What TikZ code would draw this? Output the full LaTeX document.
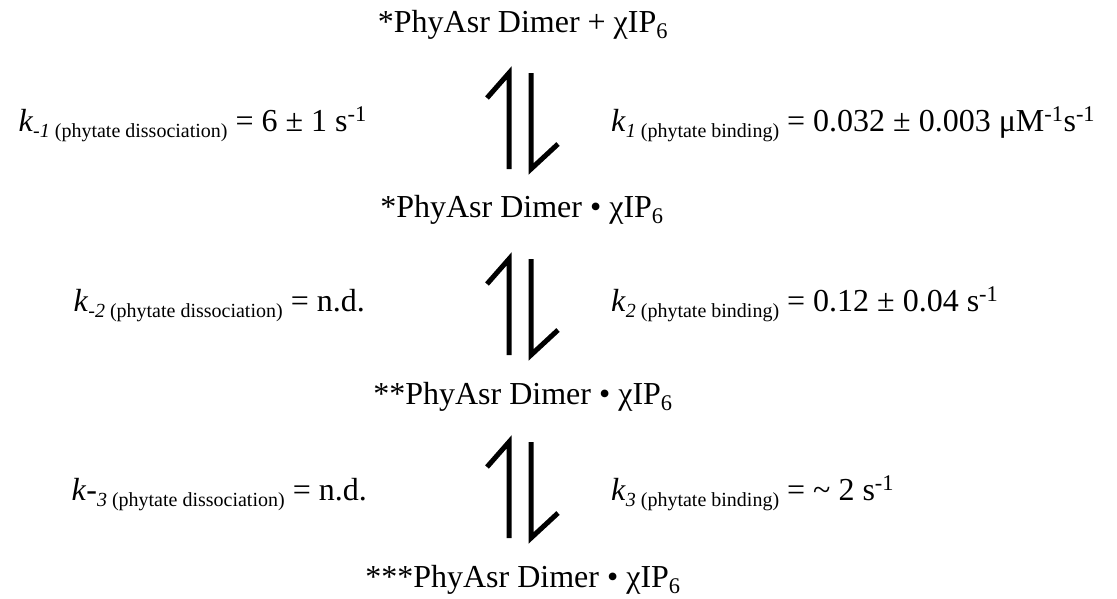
\documentclass[tikz,border=0pt]{standalone}
\usepackage{fontspec}
\setmainfont{Liberation Serif}
\usetikzlibrary{positioning,calc}
\tikzset{
  species/.style={font=\fontsize{32}{36}\selectfont, inner sep=0pt, anchor=base},
  ratel/.style={font=\fontsize{32}{36}\selectfont, inner sep=0pt, anchor=base east},
  rater/.style={font=\fontsize{32}{36}\selectfont, inner sep=0pt, anchor=base west},
  eqarrow/.style={line width=5pt, line join=miter}
}
\newcommand{\ksub}[1]{\raisebox{-6pt}{\fontsize{20}{22}\selectfont #1}}
\newcommand{\krate}[2]{\textit{k}\ksub{\textit{#1} (phytate #2)}}
\newcommand{\chiIP}{χIP\textsubscript{6}}

\begin{document}
\begin{tikzpicture}[x=1pt, y=-1pt]
  \useasboundingbox (0,0) rectangle (1117,598);

  % species
  \node[species] (s1) at (523,32) {*PhyAsr Dimer + \chiIP};
  \node[species] (s2) at (522,217) {*PhyAsr Dimer • \chiIP};
  \node[species] (s3) at (523,404) {**PhyAsr Dimer • \chiIP};
  \node[species] (s4) at (523,587) {***PhyAsr Dimer • \chiIP};

  % equilibrium arrows
  \coordinate (a1) at (520,121);
  \coordinate (a2) at (520,307);
  \coordinate (a3) at (520,490);
  \foreach \a in {a1,a2,a3} {
    \draw[eqarrow] ($(\a)+(-11,48)$) -- ++(0,-96) -- ++(-22,25);
    \draw[eqarrow] ($(\a)+(11,-48)$) -- ++(0,96) -- ++(27,-25);
  }

  % rate constants
  \node[ratel] (km1) at (367,131) {\krate{-1}{dissociation} = 6 ± 1 s\textsuperscript{-1}};
  \node[rater] (k1) at (611,131) {\krate{1}{binding} = 0.032 ± 0.003 μM\textsuperscript{-1}s\textsuperscript{-1}};
  \node[ratel] (km2) at (365,311) {\krate{-2}{dissociation} = n.d.};
  \node[rater] (k2) at (611,311) {\krate{2}{binding} = 0.12 ± 0.04 s\textsuperscript{-1}};
  \node[ratel] (km3) at (367,500) {\textit{k}-\ksub{\textit{3} (phytate dissociation)} = n.d.};
  \node[rater] (k3) at (611,500) {\krate{3}{binding} = \textasciitilde\ 2 s\textsuperscript{-1}};

\end{tikzpicture}
\end{document}
